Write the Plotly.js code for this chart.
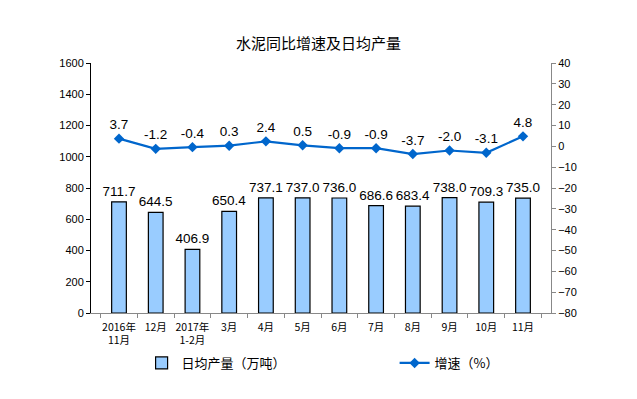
<!DOCTYPE html>
<html><head><meta charset="utf-8">
<script src="https://cdn.plot.ly/plotly-3.0.1.min.js"></script>
<style>body{margin:0;background:#fff}#c{width:637px;height:399px}</style>
</head><body><div id="c"></div>
<script>
const categories = ["2016年<br>11月","12月","2017年<br>1-2月","3月","4月","5月","6月","7月","8月","9月","10月","11月"];
const output = [711.7,644.5,406.9,650.4,737.1,737.0,736.0,686.6,683.4,738.0,709.3,735.0];
const growth = [3.7,-1.2,-0.4,0.3,2.4,0.5,-0.9,-0.9,-3.7,-2.0,-3.1,4.8];
const leftTicks = [0,200,400,600,800,1000,1200,1400,1600];
const rightTicks = [-80,-70,-60,-50,-40,-30,-20,-10,0,10,20,30,40];

const F = "Liberation Sans, Noto Sans CJK SC, sans-serif";
const data = [
  {type:'bar', x:categories, y:output, name:'日均产量（万吨）',
   marker:{color:'#99CCFF', line:{color:'#000', width:1.2}},
   text:output.map(v=>v.toFixed(1)), textposition:'outside', cliponaxis:false, constraintext:'none',
   textfont:{family:F, size:13.5, color:'#000'}, legend:'legend', hoverinfo:'skip'},
  {type:'scatter', mode:'lines+markers+text', x:categories, y:growth, yaxis:'y2', name:'增速（%）',
   line:{color:'#0066CC', width:2.2}, marker:{symbol:'diamond', size:8, color:'#0066CC'},
   text:growth.map(v=>v.toFixed(1)), textposition:'top center', cliponaxis:false,
   textfont:{family:F, size:13.5, color:'#000'}, legend:'legend2', hoverinfo:'skip'}
];
const layout = {
  width:637, height:399, margin:{l:91, r:86, t:63, b:86},
  paper_bgcolor:'#fff', plot_bgcolor:'#fff', showlegend:true,
  font:{family:F, size:11, color:'#000'},
  title:{text:'水泥同比增速及日均产量', x:0.5, xanchor:'center', y:0.89, yanchor:'middle',
         font:{family:'Noto Sans CJK SC, sans-serif', size:15, color:'#000'}},
  bargap:0.6,
  xaxis:{type:'category', showline:true, linecolor:'#888', linewidth:1, ticks:'outside', tickson:'boundaries',
         ticklen:4, tickcolor:'#888', tickangle:0, ticklabelstandoff:4,
         tickfont:{family:'Noto Sans CJK SC, sans-serif', size:10.5}, showgrid:false, zeroline:false},
  yaxis:{range:[0,1600], tickvals:leftTicks, showline:true, linecolor:'#000', linewidth:1, ticks:'outside', ticklen:4,
         tickcolor:'#000', showgrid:false, zeroline:false, tickfont:{family:F, size:11}},
  yaxis2:{range:[-80,40], tickvals:rightTicks, overlaying:'y', side:'right', showline:true, linecolor:'#888', linewidth:1,
          ticks:'outside', ticklen:4, tickcolor:'#888', showgrid:false, zeroline:false, tickfont:{family:F, size:11}},
  legend:{orientation:'h', x:0.11, xanchor:'left', y:-0.2, yanchor:'middle', font:{family:'Noto Sans CJK SC, sans-serif', size:13}, bgcolor:'rgba(0,0,0,0)'},
  legend2:{orientation:'h', x:0.66, xanchor:'left', y:-0.2, yanchor:'middle', font:{family:'Noto Sans CJK SC, sans-serif', size:13}, bgcolor:'rgba(0,0,0,0)'}
};
Plotly.newPlot('c', data, layout, {staticPlot:true, displayModeBar:false});
</script></body></html>
